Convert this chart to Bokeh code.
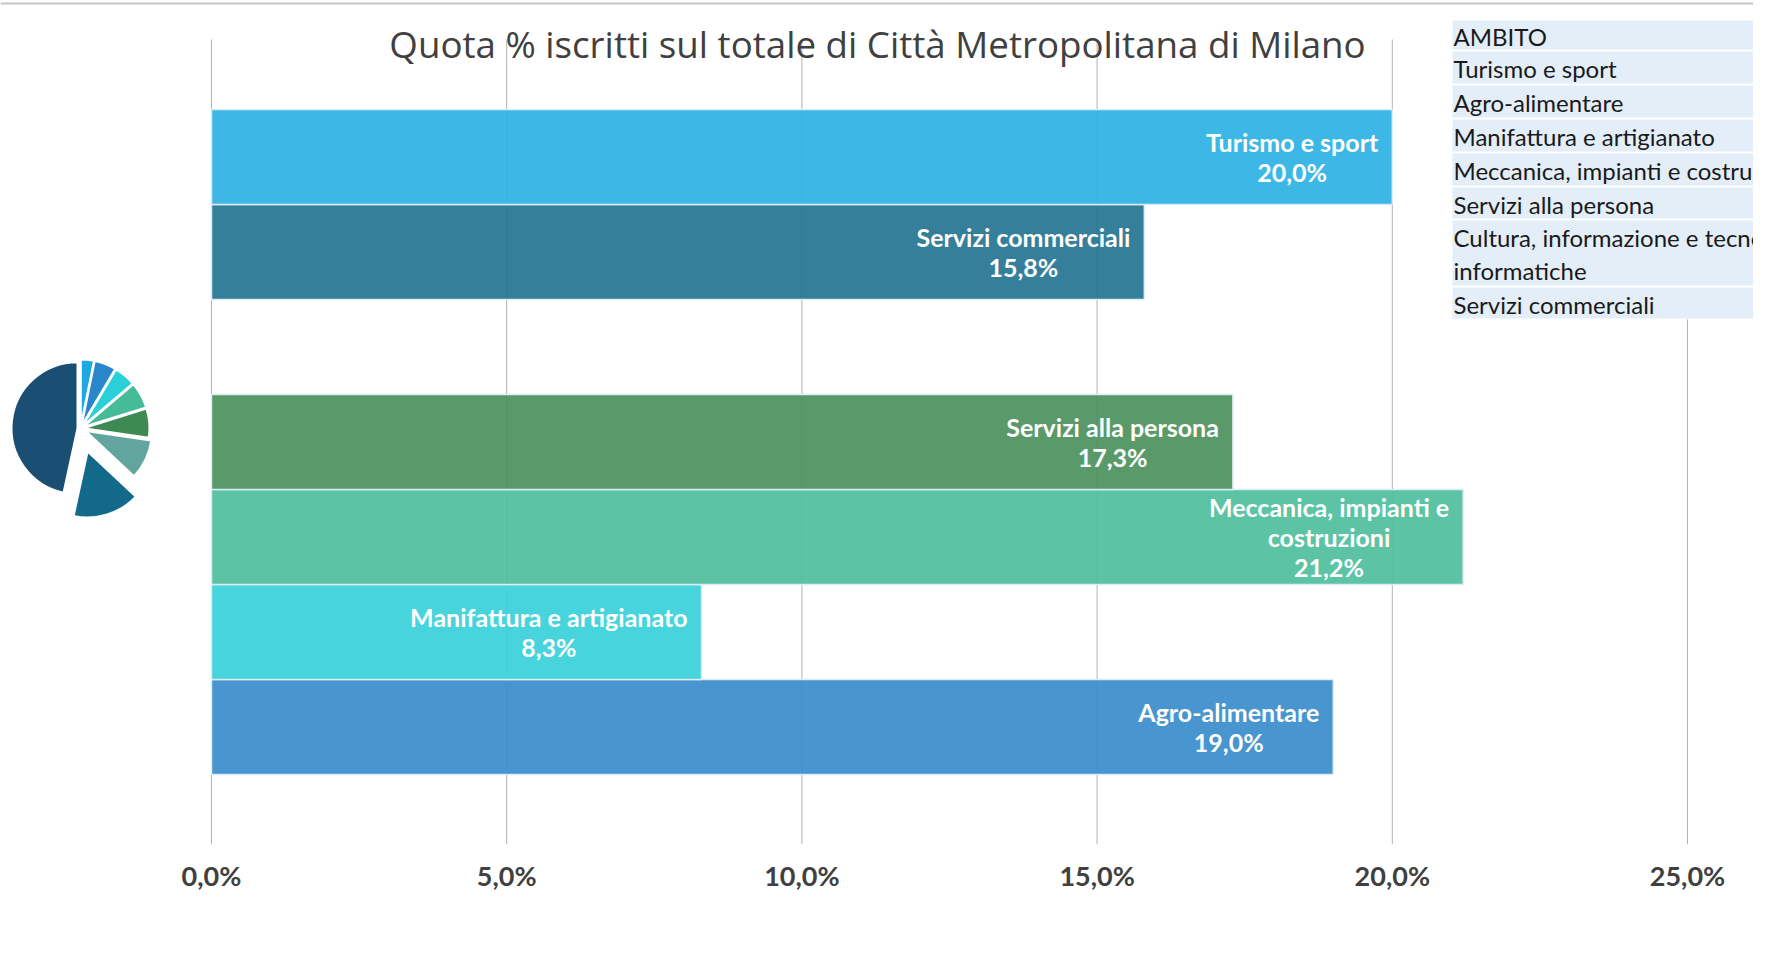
import math
from bokeh.plotting import figure
from bokeh.models import Range1d, FixedTicker, ColumnDataSource
from bokeh.core.properties import value
from bokeh.embed import file_html
from bokeh.resources import INLINE

# ---------------- data ----------------
title_text = "Quota % iscritti sul totale di Città Metropolitana di Milano"

# bar categories, bottom to top
categories = ["Agro-alimentare", "Manifattura e artigianato",
              "Meccanica, impianti e costruzioni", "Servizi alla persona",
              "Cultura, informazione e tecnologie informatiche",
              "Servizi commerciali", "Turismo e sport"]
bar_labels = ["Agro-alimentare", "Manifattura e artigianato",
              "Meccanica, impianti e\ncostruzioni", "Servizi alla persona",
              "Cultura, informazione e\ntecnologie informatiche",
              "Servizi commerciali", "Turismo e sport"]
shares = [19.0, 8.3, 21.2, 17.3, None, 15.8, 20.0]
bar_colors = ["#3A8DCB", "#3AD1D9", "#50C09D", "#4E925F", "#888888", "#267592", "#2EB3E4"]

tick_values = [0, 5, 10, 15, 20, 25]
tick_labels = ["0,0%", "5,0%", "10,0%", "15,0%", "20,0%", "25,0%"]

table_rows = ["AMBITO", "Turismo e sport", "Agro-alimentare", "Manifattura e artigianato",
              "Meccanica, impianti e costruzioni", "Servizi alla persona",
              "Cultura, informazione e tecnologie\ninformatiche", "Servizi commerciali"]

pie_values = [3.2, 5.3, 5.3, 6.4, 7.1, 9.7, 16.4, 46.6]
pie_colors = ["#1DA8E2", "#2A86CB", "#2BCFD8", "#45BB98", "#3E8A55", "#62A59E", "#13698A", "#1A4F73"]
pie_explode = [3, 3, 3, 3, 3, 6, 24, 3]

# ---------------- layout ----------------
W, H = 1753, 937
FRAME_H = 844
PX_PER_PCT = 59.04
ZERO_X = 211
x0 = -ZERO_X / PX_PER_PCT
x1 = x0 + W / PX_PER_PCT
SLOT = 95.0
pad = 0.737
y_lo = -0.5 - pad
y_hi = len(categories) - 0.5 + pad
y_top = y_lo + FRAME_H / SLOT

p = figure(width=W, height=H, output_backend="svg", toolbar_location=None,
           x_range=Range1d(x0, x1), y_range=Range1d(y_lo, y_top),
           y_axis_location=None,
           min_border_left=0, min_border_right=0, min_border_top=0,
           min_border_bottom=H - FRAME_H)
p.outline_line_color = None
p.background_fill_color = "white"
p.border_fill_color = "white"
p.xgrid.visible = False
p.ygrid.visible = False

p.extra_x_ranges = {"px": Range1d(0, W)}
p.extra_y_ranges = {"px": Range1d(FRAME_H, 0)}

# axis
ax = p.xaxis[0]
ax.ticker = FixedTicker(ticks=tick_values)
ax.major_label_overrides = {v: s for v, s in zip(tick_values, tick_labels)}
ax.axis_line_color = None
ax.major_tick_line_color = None
ax.minor_tick_line_color = None
ax.major_tick_in = 0
ax.major_tick_out = 0
ax.major_label_standoff = 14
ax.major_label_text_font = "Lato"
ax.major_label_text_font_style = "bold"
ax.major_label_text_font_size = "27px"
ax.major_label_text_color = "#404040"

# top rule
p.segment(x0=[0], x1=[W], y0=[3], y1=[3], line_color="#c4c4c4", line_width=2,
          x_range_name="px", y_range_name="px")

# grid lines
p.segment(x0=tick_values, x1=tick_values, y0=[y_lo] * len(tick_values),
          y1=[y_hi] * len(tick_values), line_color="#b2b2b2", line_width=1)

# bars
idx = [i for i, v in enumerate(shares) if v is not None]
bsrc = ColumnDataSource(dict(
    y=idx,
    right=[shares[i] for i in idx],
    color=[bar_colors[i] for i in idx],
    label=[bar_labels[i] + "\n" + f"{shares[i]:.1f}".replace(".", ",") + "%" for i in idx],
))
p.hbar(y="y", left=0, right="right", height=1.0, source=bsrc, fill_color="color",
       fill_alpha=0.93, line_color="#dcecf6", line_width=1.5)
p.text(x="right", y="y", text="label", source=bsrc, x_offset=-14,
       anchor=value("center_right"), text_align="center",
       text_font=value("Lato"), text_font_style="bold", text_font_size="25px",
       text_color="white", text_line_height=1.0)

# title
p.text(x=[877], y=[43], text=[title_text], x_range_name="px", y_range_name="px",
       text_align="center", text_baseline="middle", text_font=value("Open Sans"),
       text_font_size="36.7px", text_color="#404040")

# pie
total = sum(pie_values)
cx, cy, R = 80, 428, 66
starts, ends, xs, ys = [], [], [], []
c = 0.0
for v, off in zip(pie_values, pie_explode):
    a_start = math.pi / 2 - 2 * math.pi * (c + v) / total
    a_end = math.pi / 2 - 2 * math.pi * c / total
    m = (a_start + a_end) / 2
    starts.append(a_start)
    ends.append(a_end)
    xs.append(cx + off * math.cos(m))
    ys.append(cy - off * math.sin(m))
    c += v
p.wedge(x=xs, y=ys, radius=R, radius_units="screen", start_angle=starts, end_angle=ends,
        fill_color=pie_colors, line_color="white", line_width=2,
        x_range_name="px", y_range_name="px")

# table legend
row_heights = [31, 34, 34, 34, 34, 33, 67, 33]
tops = []
t = 19
for h in row_heights:
    tops.append(t)
    t += h
p.quad(left=[1452], right=[W], top=[tops[0]], bottom=[t],
       fill_color="white", line_color=None, x_range_name="px", y_range_name="px")
p.quad(left=[1452] * len(tops), right=[W] * len(tops),
       top=[tt + 1 for tt in tops], bottom=[tt + h - 1 for tt, h in zip(tops, row_heights)],
       fill_color="#E3EEF9", line_color=None, x_range_name="px", y_range_name="px")
tx, ty, tt_ = [], [], []
for top, h, row in zip(tops, row_heights, table_rows):
    lines = row.split("\n")
    lh = h / len(lines)
    for k, ln in enumerate(lines):
        tx.append(1453)
        ty.append(top + lh * (k + 0.5) + 1)
        tt_.append(ln)
p.text(x=tx, y=ty, text=tt_, x_range_name="px", y_range_name="px",
       text_align="left", text_baseline="middle", text_font=value("Lato"),
       text_font_size="24px", text_color="#1a1a1a")

open("out.html", "w").write(file_html(p, INLINE))
